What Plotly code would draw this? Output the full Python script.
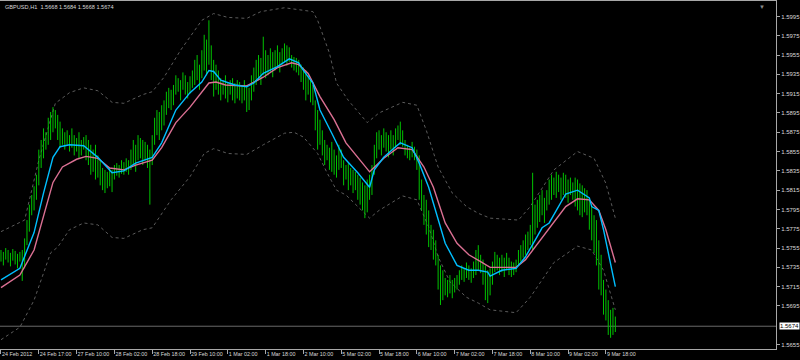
import plotly.graph_objects as go

# ---------------- data ----------------
title_text = "GBPUSD,H1\u00a0\u00a01.5668 1.5684 1.5668 1.5674"
bid_price = 1.5674

bar_high = [
    1.5753, 1.5751, 1.5755, 1.5753, 1.5750, 1.5754, 1.5752, 1.5749, 1.5751, 1.5753,
    1.5765, 1.5784, 1.5800, 1.5810, 1.5819, 1.5831, 1.5857, 1.5867, 1.5879, 1.5875,
    1.5890, 1.5896, 1.5901, 1.5898, 1.5893, 1.5886, 1.5879, 1.5875, 1.5877, 1.5872,
    1.5879, 1.5872, 1.5869, 1.5875, 1.5867, 1.5870, 1.5872, 1.5867, 1.5862, 1.5857,
    1.5862, 1.5851, 1.5846, 1.5838, 1.5836, 1.5834, 1.5838, 1.5836, 1.5841, 1.5843,
    1.5841, 1.5846, 1.5844, 1.5848, 1.5846, 1.5857, 1.5867, 1.5862, 1.5872, 1.5869,
    1.5867, 1.5865, 1.5862, 1.5857, 1.5872, 1.5890, 1.5898, 1.5896, 1.5903, 1.5908,
    1.5917, 1.5921, 1.5919, 1.5924, 1.5934, 1.5931, 1.5929, 1.5937, 1.5934, 1.5927,
    1.5933, 1.5939, 1.5950, 1.5955, 1.5945, 1.5960, 1.5976, 1.5971, 1.5991, 1.5965,
    1.5950, 1.5945, 1.5939, 1.5931, 1.5929, 1.5934, 1.5927, 1.5929, 1.5931, 1.5926,
    1.5929, 1.5927, 1.5924, 1.5929, 1.5924, 1.5921, 1.5934, 1.5942, 1.5950, 1.5955,
    1.5952, 1.5974, 1.5960, 1.5955, 1.5962, 1.5958, 1.5960, 1.5965, 1.5958, 1.5962,
    1.5967, 1.5965, 1.5963, 1.5955, 1.5953, 1.5952, 1.5950, 1.5945, 1.5942, 1.5939,
    1.5934, 1.5929, 1.5924, 1.5908, 1.5898, 1.5888, 1.5877, 1.5867, 1.5862, 1.5859,
    1.5865, 1.5857, 1.5851, 1.5862, 1.5857, 1.5846, 1.5841, 1.5843, 1.5838, 1.5836,
    1.5834, 1.5831, 1.5828, 1.5823, 1.5820, 1.5826, 1.5831, 1.5841, 1.5862, 1.5875,
    1.5877, 1.5872, 1.5879, 1.5875, 1.5872, 1.5877, 1.5872, 1.5879, 1.5882, 1.5886,
    1.5877, 1.5867, 1.5862, 1.5859, 1.5865, 1.5860, 1.5857, 1.5851, 1.5826, 1.5810,
    1.5805, 1.5794, 1.5779, 1.5774, 1.5763, 1.5748, 1.5737, 1.5732, 1.5724, 1.5722,
    1.5727, 1.5722, 1.5724, 1.5727, 1.5732, 1.5737, 1.5734, 1.5740, 1.5737, 1.5734,
    1.5741, 1.5753, 1.5758, 1.5748, 1.5743, 1.5737, 1.5732, 1.5734, 1.5741, 1.5751,
    1.5748, 1.5745, 1.5748, 1.5745, 1.5750, 1.5745, 1.5741, 1.5740, 1.5743, 1.5753,
    1.5758, 1.5763, 1.5769, 1.5772, 1.5779, 1.5833, 1.5800, 1.5805, 1.5810, 1.5815,
    1.5807, 1.5815, 1.5826, 1.5831, 1.5828, 1.5834, 1.5831, 1.5828, 1.5833, 1.5831,
    1.5826, 1.5828, 1.5823, 1.5828, 1.5826, 1.5822, 1.5820, 1.5817, 1.5815, 1.5805,
    1.5800, 1.5789, 1.5784, 1.5763, 1.5748, 1.5722, 1.5712, 1.5701, 1.5691, 1.5693,
    1.5684,
]
bar_low = [
    1.5741, 1.5737, 1.5743, 1.5740, 1.5736, 1.5742, 1.5738, 1.5734, 1.5741, 1.5721,
    1.5734, 1.5758, 1.5772, 1.5789, 1.5794, 1.5805, 1.5820, 1.5838, 1.5848, 1.5857,
    1.5862, 1.5867, 1.5875, 1.5879, 1.5867, 1.5859, 1.5862, 1.5857, 1.5862, 1.5855,
    1.5859, 1.5851, 1.5855, 1.5848, 1.5851, 1.5857, 1.5846, 1.5841, 1.5831, 1.5834,
    1.5826, 1.5828, 1.5820, 1.5815, 1.5812, 1.5817, 1.5819, 1.5813, 1.5826, 1.5830,
    1.5828, 1.5832, 1.5831, 1.5834, 1.5831, 1.5836, 1.5841, 1.5834, 1.5846, 1.5848,
    1.5841, 1.5846, 1.5838, 1.5800, 1.5841, 1.5862, 1.5872, 1.5867, 1.5877, 1.5882,
    1.5893, 1.5900, 1.5898, 1.5903, 1.5914, 1.5917, 1.5908, 1.5919, 1.5914, 1.5910,
    1.5915, 1.5921, 1.5924, 1.5929, 1.5919, 1.5931, 1.5939, 1.5934, 1.5945, 1.5929,
    1.5912, 1.5919, 1.5914, 1.5908, 1.5914, 1.5910, 1.5906, 1.5914, 1.5908, 1.5905,
    1.5910, 1.5908, 1.5905, 1.5908, 1.5896, 1.5898, 1.5908, 1.5917, 1.5924, 1.5929,
    1.5924, 1.5934, 1.5931, 1.5934, 1.5937, 1.5932, 1.5939, 1.5942, 1.5937, 1.5945,
    1.5948, 1.5944, 1.5948, 1.5942, 1.5939, 1.5937, 1.5934, 1.5927, 1.5919, 1.5908,
    1.5914, 1.5906, 1.5903, 1.5877, 1.5857, 1.5862, 1.5851, 1.5841, 1.5846, 1.5836,
    1.5834, 1.5831, 1.5828, 1.5836, 1.5838, 1.5820, 1.5826, 1.5815, 1.5820, 1.5812,
    1.5815, 1.5805, 1.5800, 1.5794, 1.5786, 1.5792, 1.5805, 1.5810, 1.5831, 1.5848,
    1.5857, 1.5851, 1.5859, 1.5855, 1.5849, 1.5857, 1.5851, 1.5859, 1.5867, 1.5862,
    1.5860, 1.5851, 1.5848, 1.5846, 1.5849, 1.5846, 1.5836, 1.5805, 1.5794, 1.5779,
    1.5769, 1.5756, 1.5753, 1.5743, 1.5737, 1.5712, 1.5696, 1.5701, 1.5706, 1.5704,
    1.5708, 1.5703, 1.5709, 1.5712, 1.5717, 1.5722, 1.5720, 1.5724, 1.5722, 1.5719,
    1.5724, 1.5727, 1.5732, 1.5729, 1.5717, 1.5701, 1.5698, 1.5706, 1.5717, 1.5730,
    1.5732, 1.5727, 1.5730, 1.5725, 1.5732, 1.5727, 1.5725, 1.5727, 1.5730, 1.5737,
    1.5741, 1.5745, 1.5748, 1.5753, 1.5758, 1.5753, 1.5769, 1.5776, 1.5782, 1.5789,
    1.5781, 1.5794, 1.5800, 1.5805, 1.5810, 1.5807, 1.5813, 1.5805, 1.5810, 1.5807,
    1.5802, 1.5810, 1.5805, 1.5798, 1.5794, 1.5789, 1.5787, 1.5792, 1.5789, 1.5774,
    1.5763, 1.5750, 1.5737, 1.5712, 1.5706, 1.5686, 1.5680, 1.5665, 1.5662, 1.5665,
    1.5668,
]

ma_fast_idx = [0, 8, 14, 18, 22, 25, 29, 35, 41, 45,
               47, 52, 57, 64, 68, 74, 80, 85, 88, 90,
               93, 99, 104, 107, 111, 117, 122, 126, 128, 132,
               135, 140, 145, 151, 156, 158, 162, 167, 169, 174,
               177, 181, 184, 188, 193, 198, 202, 206, 207, 212,
               218, 222, 226, 229, 232, 235, 239, 244, 246, 249,
               250, 253, 255, 260]
ma_fast = [1.5722, 1.5734, 1.5771, 1.5812, 1.5849, 1.5860, 1.5862, 1.5861, 1.5849, 1.5838,
           1.5833, 1.5835, 1.5843, 1.5849, 1.5864, 1.5898, 1.5916, 1.5927, 1.5939, 1.5938,
           1.5929, 1.5924, 1.5922, 1.5926, 1.5936, 1.5943, 1.5951, 1.5947, 1.5939, 1.5926,
           1.5898, 1.5874, 1.5849, 1.5833, 1.5818, 1.5836, 1.5849, 1.5860, 1.5864, 1.5859,
           1.5843, 1.5818, 1.5794, 1.5760, 1.5737, 1.5732, 1.5732, 1.5730, 1.5726, 1.5732,
           1.5734, 1.5746, 1.5763, 1.5776, 1.5781, 1.5794, 1.5811, 1.5815, 1.5812, 1.5807,
           1.5798, 1.5794, 1.5774, 1.5715]

ma_slow_idx = [0, 8, 14, 18, 22, 26, 32, 36, 41, 46,
               52, 57, 64, 68, 74, 80, 85, 88, 91, 95,
               104, 111, 117, 123, 126, 130, 135, 141, 146, 152,
               156, 162, 168, 174, 179, 183, 188, 193, 198, 203,
               207, 212, 218, 222, 226, 230, 235, 239, 244, 249,
               253, 256, 260]
ma_slow = [1.5714, 1.5727, 1.5753, 1.5787, 1.5823, 1.5839, 1.5847, 1.5850, 1.5848, 1.5838,
           1.5836, 1.5841, 1.5846, 1.5859, 1.5885, 1.5901, 1.5916, 1.5926, 1.5927, 1.5924,
           1.5923, 1.5932, 1.5942, 1.5947, 1.5945, 1.5936, 1.5912, 1.5888, 1.5864, 1.5846,
           1.5834, 1.5848, 1.5859, 1.5857, 1.5839, 1.5818, 1.5781, 1.5760, 1.5748, 1.5741,
           1.5735, 1.5735, 1.5735, 1.5743, 1.5756, 1.5769, 1.5784, 1.5798, 1.5806, 1.5805,
           1.5794, 1.5774, 1.5740]

band_up_idx = [0, 10, 16, 23, 29, 35, 41, 47, 52, 60,
               64, 69, 76, 85, 90, 96, 104, 110, 120, 132, 134,
               139, 142, 147, 155, 160, 170, 176, 180, 185, 191,
               197, 202, 207, 219, 224, 234, 244, 251, 256, 260]
band_up = [1.5772, 1.5784, 1.5846, 1.5905, 1.5916, 1.5921, 1.5918, 1.5906, 1.5905, 1.5914,
           1.5917, 1.5932, 1.5960, 1.5991, 1.5998, 1.5994, 1.5993, 1.6000, 1.6004, 1.6000, 1.5991,
           1.5957, 1.5926, 1.5908, 1.5885, 1.5895, 1.5906, 1.5903, 1.5877, 1.5839, 1.5812,
           1.5798, 1.5791, 1.5786, 1.5784, 1.5798, 1.5836, 1.5855, 1.5848, 1.5822, 1.5786]

band_dn_idx = [0, 8, 14, 21, 24, 29, 35, 41, 47, 52,
               60, 64, 72, 80, 86, 90, 96, 104, 111, 120,
               124, 128, 134, 138, 142, 146, 156, 160, 170, 176,
               181, 185, 190, 197, 202, 207, 218, 224, 234, 244,
               250, 255, 260]
band_dn = [1.5660, 1.5673, 1.5701, 1.5750, 1.5756, 1.5774, 1.5781, 1.5779, 1.5766, 1.5765,
           1.5774, 1.5776, 1.5805, 1.5829, 1.5853, 1.5858, 1.5853, 1.5852, 1.5862, 1.5874,
           1.5875, 1.5870, 1.5853, 1.5833, 1.5815, 1.5810, 1.5786, 1.5794, 1.5809, 1.5805,
           1.5777, 1.5746, 1.5720, 1.5704, 1.5698, 1.5691, 1.5688, 1.5704, 1.5740, 1.5757,
           1.5753, 1.5732, 1.5691]

x_tick_idx = [0, 16, 32, 48, 64, 80, 96, 112, 128, 144, 160, 176, 192, 208, 224, 240, 256]
x_tick_text = ["24 Feb 2012", "24 Feb 17:00", "27 Feb 10:00", "28 Feb 02:00", "28 Feb 18:00",
               "29 Feb 10:00", "1 Mar 02:00", "1 Mar 18:00", "2 Mar 10:00", "5 Mar 02:00",
               "5 Mar 18:00", "6 Mar 10:00", "7 Mar 02:00", "7 Mar 18:00", "8 Mar 10:00",
               "9 Mar 02:00", "9 Mar 18:00"]
y_ticks = [1.5995, 1.5975, 1.5955, 1.5935, 1.5915, 1.5895, 1.5875, 1.5855, 1.5835,
           1.5815, 1.5795, 1.5775, 1.5755, 1.5735, 1.5715, 1.5695, 1.5655]

# ---------------- figure ----------------
FONT = "Liberation Sans, Arial, sans-serif"
AXIS_COL = "#a8a8a8"
TXT_COL = "#d8d8d8"

bx, by = [], []
for i, (h, l) in enumerate(zip(bar_high, bar_low)):
    bx += [i, i, None]
    by += [h, l, None]

fig = go.Figure()
fig.add_trace(go.Scatter(x=band_up_idx, y=band_up, mode="lines",
                         line=dict(color="#5c5c5c", width=1, dash="dot"), hoverinfo="skip"))
fig.add_trace(go.Scatter(x=band_dn_idx, y=band_dn, mode="lines",
                         line=dict(color="#5c5c5c", width=1, dash="dot"), hoverinfo="skip"))
fig.add_trace(go.Scatter(x=bx, y=by, mode="lines",
                         line=dict(color="#00c400", width=1), hoverinfo="skip"))
fig.add_trace(go.Scatter(x=ma_slow_idx, y=ma_slow, mode="lines",
                         line=dict(color="#db7093", width=1.4), hoverinfo="skip"))
fig.add_trace(go.Scatter(x=ma_fast_idx, y=ma_fast, mode="lines",
                         line=dict(color="#00bfff", width=1.4), hoverinfo="skip"))

fig.add_shape(type="line", xref="paper", x0=0, x1=1, yref="y", y0=bid_price, y1=bid_price,
              line=dict(color="#6a6a6a", width=1), layer="below")

fig.add_annotation(xref="paper", yref="paper", x=0.004, y=0.997, xanchor="left", yanchor="top",
                   text=title_text, showarrow=False,
                   font=dict(family=FONT, size=5.6, color=TXT_COL))
fig.add_annotation(xref="paper", yref="y", x=1, xshift=3, y=bid_price, xanchor="left",
                   yanchor="middle", text=bid_price.__format__(".4f"), showarrow=False,
                   bgcolor="#ffffff", borderpad=0,
                   font=dict(family=FONT, size=6, color="#000000"))
fig.add_annotation(xref="paper", yref="paper", x=0.982, y=1.0, xanchor="center", yanchor="top",
                   text="\u25bc", showarrow=False, font=dict(size=6, color="#8a8a8a"))

fig.update_layout(
    width=800, height=360,
    margin=dict(l=0, r=24, t=1, b=11, autoexpand=False),
    paper_bgcolor="#000000", plot_bgcolor="#000000",
    showlegend=False,
    xaxis=dict(range=[-0.42, 328.0], tickvals=x_tick_idx, ticktext=x_tick_text,
               tickangle=0, automargin=False,
               ticks="outside", ticklen=4, tickcolor=AXIS_COL, tickwidth=1,
               ticklabelposition="outside right",
               tickfont=dict(family=FONT, size=5.4, color=TXT_COL),
               showline=True, linecolor=AXIS_COL, linewidth=1, mirror=True,
               showgrid=False, zeroline=False, fixedrange=True),
    yaxis=dict(side="right", range=[1.56504, 1.60110], tickvals=y_ticks, tickformat=".4f",
               automargin=False,
               ticks="outside", ticklen=3, tickcolor=AXIS_COL, tickwidth=1,
               tickfont=dict(family=FONT, size=6, color=TXT_COL),
               showline=True, linecolor=AXIS_COL, linewidth=1, mirror=True,
               showgrid=False, zeroline=False, fixedrange=True),
)

fig.write_html("out.html", config={"displayModeBar": False})
